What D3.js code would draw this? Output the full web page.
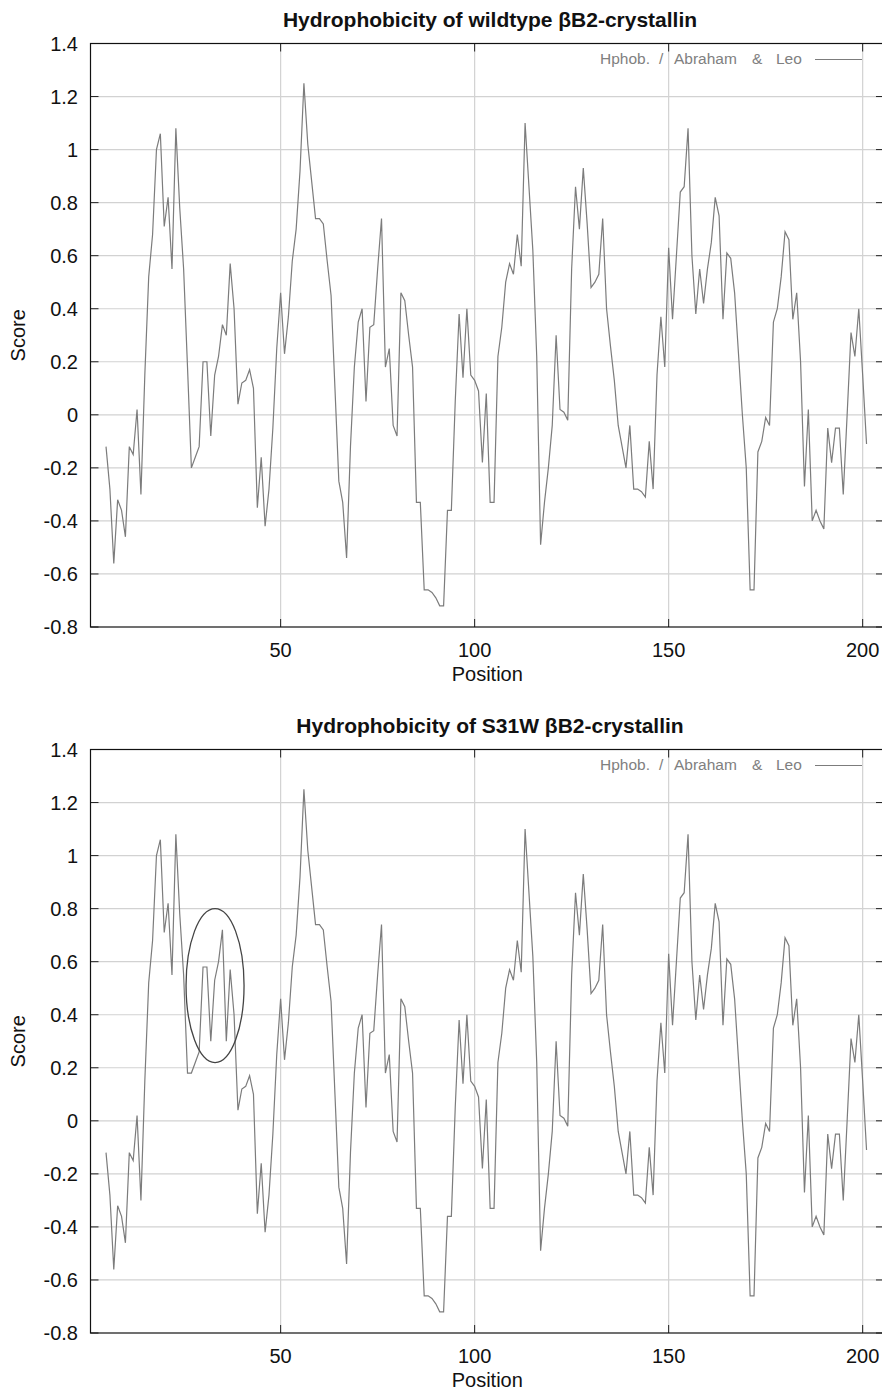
<!DOCTYPE html>
<html>
<head>
<meta charset="utf-8">
<script src="https://cdn.jsdelivr.net/npm/d3@7"></script>
<style>
  html, body { margin: 0; padding: 0; background: #fff; }
  svg { display: block; font-family: "Liberation Sans", Arial, Helvetica, sans-serif; }
</style>
</head>
<body>
<svg id="chart" width="882" height="1392"></svg>
<script>
// Abraham & Leo hydrophobicity, window 9, first score at residue 5
const firstPosition = 5;
const wildtypeScores = [
  -0.12, -0.28, -0.56, -0.32, -0.36, -0.46, -0.12, -0.15, 0.02, -0.30,   // 5-14
  0.15, 0.52, 0.68, 1.00, 1.06, 0.71, 0.82, 0.55, 1.08, 0.78,            // 15-24
  0.55, 0.18, -0.20, -0.16, -0.12, 0.20, 0.20, -0.08, 0.15, 0.22,        // 25-34
  0.34, 0.30, 0.57, 0.40, 0.04, 0.12, 0.13, 0.17, 0.10, -0.35,           // 35-44
  -0.16, -0.42, -0.28, -0.05, 0.25, 0.46, 0.23, 0.37, 0.58, 0.70,        // 45-54
  0.92, 1.25, 1.02, 0.88, 0.74, 0.74, 0.72, 0.58, 0.45, 0.10,            // 55-64
  -0.25, -0.33, -0.54, -0.12, 0.18, 0.35, 0.40, 0.05, 0.33, 0.34,        // 65-74
  0.55, 0.74, 0.18, 0.25, -0.04, -0.08, 0.46, 0.43, 0.30, 0.18,          // 75-84
  -0.33, -0.33, -0.66, -0.66, -0.67, -0.69, -0.72, -0.72, -0.36, -0.36,  // 85-94
  0.05, 0.38, 0.14, 0.40, 0.15, 0.13, 0.09, -0.18, 0.08, -0.33,          // 95-104
  -0.33, 0.22, 0.33, 0.50, 0.57, 0.53, 0.68, 0.56, 1.10, 0.86,           // 105-114
  0.62, 0.22, -0.49, -0.33, -0.20, -0.04, 0.30, 0.02, 0.01, -0.02,       // 115-124
  0.55, 0.86, 0.70, 0.93, 0.72, 0.48, 0.50, 0.53, 0.74, 0.40,            // 125-134
  0.26, 0.13, -0.04, -0.12, -0.20, -0.04, -0.28, -0.28, -0.29, -0.31,    // 135-144
  -0.10, -0.28, 0.15, 0.37, 0.18, 0.63, 0.36, 0.60, 0.84, 0.86,          // 145-154
  1.08, 0.60, 0.38, 0.55, 0.42, 0.55, 0.65, 0.82, 0.75, 0.36,            // 155-164
  0.61, 0.59, 0.46, 0.23, 0.00, -0.20, -0.66, -0.66, -0.14, -0.10,       // 165-174
  -0.01, -0.04, 0.35, 0.40, 0.52, 0.69, 0.66, 0.36, 0.46, 0.20,          // 175-184
  -0.27, 0.02, -0.40, -0.36, -0.40, -0.43, -0.05, -0.18, -0.05, -0.05,   // 185-194
  -0.30, 0.00, 0.31, 0.22, 0.40, 0.15, -0.11                             // 195-201
];

// windows that contain residue 31 change in the S31W mutant
const s31wPositions = [27, 28, 29, 30, 31, 32, 33, 34, 35];
const s31wScores = [0.18, 0.22, 0.26, 0.58, 0.58, 0.30, 0.53, 0.60, 0.72];

const yTicks = [-0.8, -0.6, -0.4, -0.2, 0, 0.2, 0.4, 0.6, 0.8, 1, 1.2, 1.4];
const xTicks = [50, 100, 150, 200];
const titles = ['Hydrophobicity of wildtype \u03b2B2-crystallin', 'Hydrophobicity of S31W \u03b2B2-crystallin'];
const legendWords = ['Hphob.', '/', 'Abraham', '&', 'Leo'];

const wildtype = wildtypeScores.map((v, i) => ({ pos: firstPosition + i, score: v }));
const mutant = wildtype.map(d => {
  const k = s31wPositions.indexOf(d.pos);
  return k < 0 ? d : { pos: d.pos, score: s31wScores[k] };
});

const svg = d3.select('#chart');
svg.append('rect').attr('width', 882).attr('height', 1392).attr('fill', '#fff');

const plotL = 90.5, plotR = 884, plotT = 43.5, plotB = 627;
const x = d3.scaleLinear().domain([1, 205.5]).range([plotL, plotR]);
const y = d3.scaleLinear().domain([-0.8, 1.4]).range([plotB, plotT]);
const tickLen = 8;

function drawPanel(offset, title, data, mark) {
  const g = svg.append('g').attr('transform', `translate(0,${offset})`);

  // grid
  g.append('g').selectAll('line')
    .data(yTicks.filter(t => t > -0.8 && t < 1.4))
    .join('line')
    .attr('x1', plotL).attr('x2', plotR)
    .attr('y1', d => y(d)).attr('y2', d => y(d))
    .attr('stroke', '#d2d2d2').attr('stroke-width', 1.2);
  g.append('g').selectAll('line')
    .data(xTicks)
    .join('line')
    .attr('x1', d => x(d)).attr('x2', d => x(d))
    .attr('y1', plotT).attr('y2', plotB)
    .attr('stroke', '#d2d2d2').attr('stroke-width', 1.2);

  // ticks, mirrored on all sides
  const ticks = g.append('g').attr('stroke', '#222').attr('stroke-width', 1);
  yTicks.forEach(t => {
    ticks.append('line').attr('x1', plotL).attr('x2', plotL + tickLen).attr('y1', y(t)).attr('y2', y(t));
    ticks.append('line').attr('x1', plotR).attr('x2', plotR - tickLen).attr('y1', y(t)).attr('y2', y(t));
  });
  xTicks.forEach(t => {
    ticks.append('line').attr('x1', x(t)).attr('x2', x(t)).attr('y1', plotB).attr('y2', plotB - tickLen);
    ticks.append('line').attr('x1', x(t)).attr('x2', x(t)).attr('y1', plotT).attr('y2', plotT + tickLen);
  });

  // data
  const line = d3.line().x(d => x(d.pos)).y(d => y(d.score));
  g.append('path').datum(data)
    .attr('d', line)
    .attr('fill', 'none')
    .attr('stroke', '#7c7c7c')
    .attr('stroke-width', 1.2);

  // frame
  g.append('rect')
    .attr('x', plotL).attr('y', plotT)
    .attr('width', plotR - plotL).attr('height', plotB - plotT)
    .attr('fill', 'none').attr('stroke', '#111').attr('stroke-width', 1.2);

  // tick labels (plain hyphen minus, as in the original)
  g.append('g').selectAll('text')
    .data(yTicks)
    .join('text')
    .attr('x', 78).attr('y', d => y(d) + 7)
    .attr('text-anchor', 'end')
    .attr('font-size', 20).attr('fill', '#111')
    .text(d => String(d));
  g.append('g').selectAll('text')
    .data(xTicks)
    .join('text')
    .attr('x', d => x(d)).attr('y', plotB + 30)
    .attr('text-anchor', 'middle')
    .attr('font-size', 20).attr('fill', '#111')
    .text(d => d);

  g.append('text')
    .attr('x', (plotL + plotR) / 2).attr('y', plotB + 54)
    .attr('text-anchor', 'middle').attr('font-size', 20).attr('fill', '#111')
    .text('Position');
  g.append('text')
    .attr('transform', `translate(25,${(plotT + plotB) / 2}) rotate(-90)`)
    .attr('text-anchor', 'middle').attr('font-size', 20).attr('fill', '#111')
    .text('Score');

  g.append('text')
    .attr('x', 490).attr('y', 26.5)
    .attr('text-anchor', 'middle').attr('font-size', 21).attr('font-weight', 'bold').attr('fill', '#111')
    .text(title);

  // legend
  const legendX = [600, 659, 674, 752, 776];
  g.append('g').selectAll('text')
    .data(legendWords)
    .join('text')
    .attr('x', (d, i) => legendX[i]).attr('y', 64)
    .attr('font-size', 15.5).attr('fill', '#808080')
    .text(d => d);
  g.append('line')
    .attr('x1', 815).attr('x2', 862).attr('y1', 59.5).attr('y2', 59.5)
    .attr('stroke', '#7c7c7c').attr('stroke-width', 1.2);

  if (mark) {
    g.append('ellipse')
      .attr('cx', x(mark.pos)).attr('cy', y(mark.score))
      .attr('rx', 29).attr('ry', 77)
      .attr('fill', 'none').attr('stroke', '#444').attr('stroke-width', 1.3);
  }
}

drawPanel(0, titles[0], wildtype, null);
drawPanel(706, titles[1], mutant, { pos: 33.1, score: 0.51 });
</script>
</body>
</html>
